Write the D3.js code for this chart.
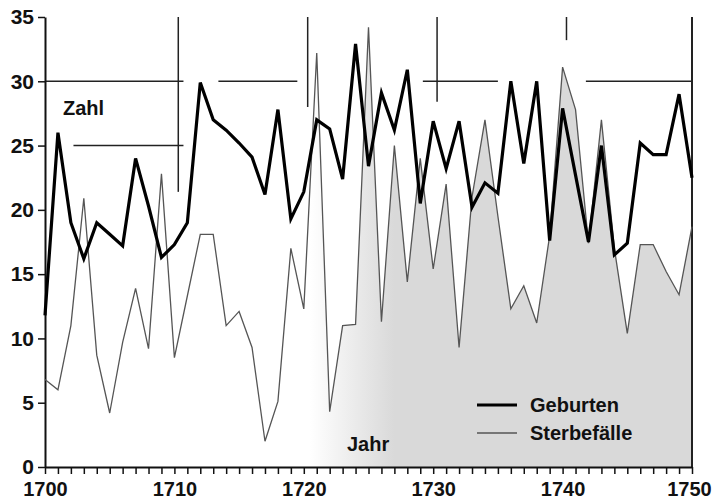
<!DOCTYPE html>
<html>
<head>
<meta charset="utf-8">
<script src="https://cdn.jsdelivr.net/npm/d3@7.9.0/dist/d3.min.js"></script>
<style>
  html, body { margin: 0; padding: 0; background: #fff; }
  svg text { font-family: "Liberation Sans", Arial, sans-serif; font-weight: bold; fill: #111; }
</style>
</head>
<body>
<div id="chart"></div>
<script>
// ---------------------------------------------------------
// Data
// ---------------------------------------------------------
const years = d3.range(1700, 1751);

const geburten = [
  11.8, 26.0, 19.0, 16.2, 19.0, 18.1, 17.2, 24.0, 20.3, 16.3,
  17.3, 19.0, 29.9, 27.0, 26.2, 25.2, 24.1, 21.2, 27.8, 19.3,
  21.4, 27.0, 26.3, 22.4, 32.9, 23.4, 29.1, 26.2, 30.9, 20.5,
  26.9, 23.2, 26.9, 20.2, 22.1, 21.3, 30.0, 23.6, 30.0, 17.6,
  27.9, 22.7, 17.5, 25.0, 16.5, 17.4, 25.2, 24.3, 24.3, 29.0,
  22.5
];

const sterbefaelle = [
  6.8, 6.0, 11.0, 20.9, 8.7, 4.2, 9.7, 13.9, 9.2, 22.8,
  8.5, 13.3, 18.1, 18.1, 11.0, 12.1, 9.3, 2.0, 5.1, 17.0,
  12.3, 32.2, 4.3, 11.0, 11.1, 34.2, 11.3, 25.0, 14.4, 24.0,
  15.4, 22.0, 9.3, 21.0, 27.0, 19.5, 12.3, 14.1, 11.2, 18.0,
  31.1, 27.8, 17.4, 27.0, 17.0, 10.4, 17.3, 17.3, 15.2, 13.4,
  18.7
];

const xTickLabels = [1700, 1710, 1720, 1730, 1740, 1750];
const yTickValues = [0, 5, 10, 15, 20, 25, 30, 35];
const seriesNames = ["Geburten", "Sterbefälle"];

// leftover grid fragments visible in the scan: [value, from, to]
const hGridBits = [
  [30, 1700, 1710.7], [30, 1713.4, 1719.5], [30, 1729.2, 1735.0], [30, 1741.8, 1750],
  [25, 1702.2, 1710.7]
];
const vGridBits = [
  [1710.3, 21.4, 35], [1720.3, 28.0, 35], [1730.3, 28.4, 35], [1740.3, 33.2, 35], [1750, 0, 35]
];

// ---------------------------------------------------------
// Chart
// ---------------------------------------------------------
const width = 714;
const height = 503;
const margin = { top: 17, right: 22, bottom: 36, left: 45 };

const svg = d3.select("#chart")
  .append("svg")
  .attr("width", width)
  .attr("height", height);

const x = d3.scaleLinear()
  .domain([1700, 1750])
  .range([margin.left, width - margin.right]);

const y = d3.scaleLinear()
  .domain([0, 35])
  .range([height - margin.bottom, margin.top]);

const rows = years.map((yr, i) => ({ year: yr, geb: geburten[i], ster: sterbefaelle[i] }));

// fill under the deaths: white on the left, grey from the 1720s on
const defs = svg.append("defs");
const grad = defs.append("linearGradient")
  .attr("id", "fillGrad")
  .attr("gradientUnits", "userSpaceOnUse")
  .attr("x1", x(1720.5)).attr("y1", 0)
  .attr("x2", x(1727)).attr("y2", 0);
grad.append("stop").attr("offset", 0).attr("stop-color", "#ffffff");
grad.append("stop").attr("offset", 1).attr("stop-color", "#d9d9d9");

const area = d3.area()
  .x(d => x(d.year))
  .y0(y(0))
  .y1(d => y(d.ster));

svg.append("path")
  .datum(rows)
  .attr("d", area)
  .attr("fill", "url(#fillGrad)");

// grid fragments
svg.append("g")
  .selectAll("line")
  .data(hGridBits)
  .join("line")
  .attr("x1", d => x(d[1]))
  .attr("x2", d => x(d[2]))
  .attr("y1", d => y(d[0]))
  .attr("y2", d => y(d[0]))
  .attr("stroke", "#222")
  .attr("stroke-width", 1.6);

svg.append("g")
  .selectAll("line")
  .data(vGridBits)
  .join("line")
  .attr("x1", d => x(d[0]))
  .attr("x2", d => x(d[0]))
  .attr("y1", d => y(d[1]))
  .attr("y2", d => y(d[2]))
  .attr("stroke", "#222")
  .attr("stroke-width", d => d[0] === 1750 ? 2 : 1.5);

// --------------------------
// AXES
// --------------------------
const xAxis = svg.append("g")
  .attr("transform", `translate(0,${y(0)})`)
  .call(d3.axisBottom(x)
    .tickValues(years)
    .tickSize(7)
    .tickSizeOuter(0)
    .tickFormat(d => xTickLabels.includes(d) ? d : ""));
xAxis.select(".domain").attr("stroke", "#111").attr("stroke-width", 2);
xAxis.selectAll(".tick line").attr("stroke", "#111").attr("stroke-width", 1.5);
xAxis.selectAll(".tick text")
  .attr("y", 15)
  .attr("font-size", 20)
  .attr("fill", "#111")
  .attr("dx", d => d === 1750 ? -3 : 0);

const yAxis = svg.append("g")
  .attr("transform", `translate(${margin.left},0)`)
  .call(d3.axisLeft(y)
    .tickValues(yTickValues)
    .tickSize(7)
    .tickSizeOuter(0));
yAxis.select(".domain").attr("stroke", "#111").attr("stroke-width", 2);
yAxis.selectAll(".tick line").attr("stroke", "#111").attr("stroke-width", 1.5);
yAxis.selectAll(".tick text")
  .attr("x", -11)
  .attr("font-size", 21)
  .attr("fill", "#111");

// --------------------------
// LINES
// --------------------------
svg.append("path")
  .datum(rows)
  .attr("fill", "none")
  .attr("stroke", "#555")
  .attr("stroke-width", 1.3)
  .attr("d", d3.line().x(d => x(d.year)).y(d => y(d.ster)));

svg.append("path")
  .datum(rows)
  .attr("fill", "none")
  .attr("stroke", "#000")
  .attr("stroke-width", 3.2)
  .attr("stroke-linejoin", "miter")
  .attr("d", d3.line().x(d => x(d.year)).y(d => y(d.geb)));

// --------------------------
// LABELS + LEGEND
// --------------------------
svg.append("text")
  .attr("x", 63).attr("y", 115)
  .attr("font-size", 20)
  .text("Zahl");

svg.append("text")
  .attr("x", 347).attr("y", 451)
  .attr("font-size", 20)
  .text("Jahr");

const legend = svg.append("g")
  .selectAll("g")
  .data(seriesNames)
  .join("g")
  .attr("transform", (d, i) => `translate(477,${405 + i * 28})`);

legend.append("line")
  .attr("x1", 0).attr("x2", 40)
  .attr("stroke", (d, i) => i === 0 ? "#000" : "#555")
  .attr("stroke-width", (d, i) => i === 0 ? 3 : 1.3);

legend.append("text")
  .attr("x", 53).attr("y", 7)
  .attr("font-size", 20)
  .text(d => d);
</script>
</body>
</html>
